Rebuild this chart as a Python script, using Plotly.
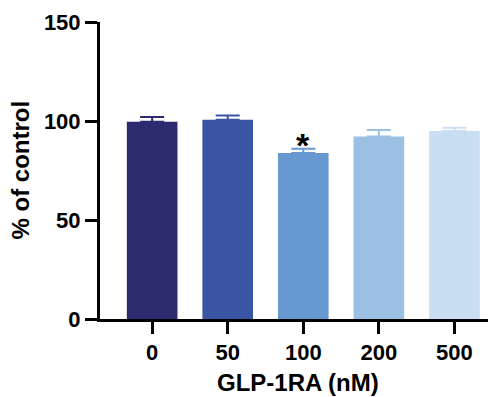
import plotly.graph_objects as go

categories = ["0", "50", "100", "200", "500"]
values = [99.6, 100.6, 83.8, 92.2, 95.0]
errors = [2.4, 2.2, 2.2, 3.2, 1.6]
colors = ["#2c2b70", "#3a55a4", "#6799d0", "#9cc0e4", "#c9def2"]
significance = ["", "", "*", "", ""]
x_title = "GLP-1RA (nM)"
y_title = "% of control"

font_main = dict(family="Arial, Liberation Sans, sans-serif", color="black", weight="bold")

fig = go.Figure()
for i, (c, v, e, col) in enumerate(zip(categories, values, errors, colors)):
    fig.add_trace(go.Bar(
        x=[i], y=[v], width=0.67,
        marker=dict(color=col, line=dict(width=0)),
        error_y=dict(type="data", array=[e], arrayminus=[0], symmetric=False,
                     color=col, thickness=2, width=12),
        showlegend=False, name=c,
    ))
    if significance[i]:
        fig.add_annotation(x=i, y=v + e, text=significance[i], showarrow=False,
                           yanchor="bottom", yshift=-17,
                           font=dict(size=34, **font_main))

fig.add_annotation(xref="paper", yref="paper", x=0.5, y=-0.215, text=x_title,
                   showarrow=False, xanchor="center", yanchor="middle",
                   font=dict(size=24, **font_main))
fig.add_annotation(xref="paper", yref="paper", x=-0.202, y=0.5, text=y_title,
                   showarrow=False, xanchor="center", yanchor="middle", textangle=-90,
                   font=dict(size=24, **font_main))

# page body has an 8px margin, so the figure is offset by 8px
fig.update_layout(
    width=488, height=389,
    margin=dict(l=92, r=0, t=14, b=78),
    paper_bgcolor="white", plot_bgcolor="white",
    barmode="overlay",
    font=font_main,
    xaxis=dict(
        range=[-0.69, 4.55], automargin=False,
        tickvals=list(range(len(categories))), ticktext=categories,
        showline=True, linecolor="black", linewidth=3,
        ticks="outside", ticklen=12, tickwidth=3, tickcolor="black",
        tickfont=dict(size=22, **font_main),
        showgrid=False, zeroline=False,
    ),
    yaxis=dict(
        range=[0, 150], automargin=False,
        tickvals=[0, 50, 100, 150],
        showline=True, linecolor="black", linewidth=3,
        ticks="outside", ticklen=12, tickwidth=3, tickcolor="black",
        tickfont=dict(size=22, **font_main),
        showgrid=False, zeroline=False,
    ),
)

fig.write_html("out.html")
